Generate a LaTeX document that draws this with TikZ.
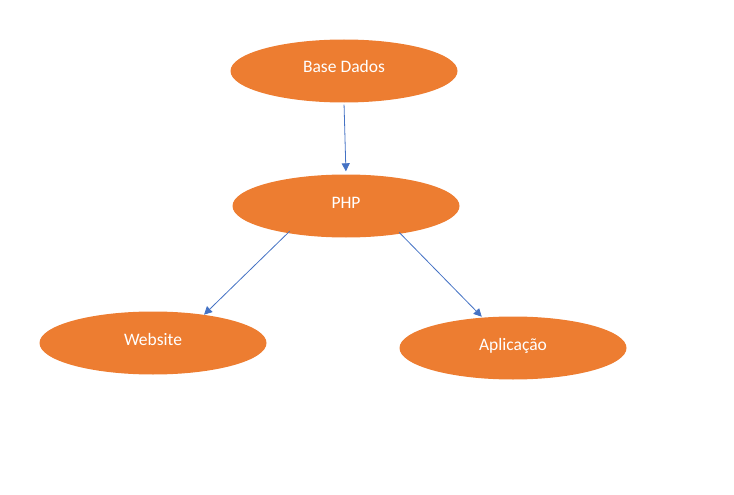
\documentclass[tikz,border=0pt]{standalone}
\usepackage{fontspec}
\setmainfont{Carlito}
\usetikzlibrary{shapes.geometric,arrows.meta}
\definecolor{offorange}{HTML}{ED7D31}
\definecolor{offblue}{HTML}{4472C4}
\tikzset{
  blob/.style={ellipse, fill=offorange, draw=none, text=white,
    minimum width=227pt, minimum height=63pt, inner sep=0pt,
    text height=11pt, text depth=7pt,
    font=\fontsize{17.5}{19}\selectfont},
  link/.style={draw=offblue, line width=0.8pt,
    -{Triangle[length=8pt,width=8pt]}}
}
\begin{document}
\begin{tikzpicture}[x=1pt,y=-1pt]
  \useasboundingbox (0,0) rectangle (734,495);
  \node[blob] (bd)  at (344,71)  {Base Dados};
  \node[blob] (php) at (346,206) {PHP};
  \node[blob] (web) at (153,343) {Website};
  \node[blob] (app) at (513,348) {Aplicação};
  \draw[link, shorten <=2pt, shorten >=3pt] (bd.south) -- (php.north);
  \draw[link, shorten <=-3pt] (php.205) -- (web.29);
  \draw[link, shorten <=-2pt, shorten >=1pt] (php.333) -- (app.135);
\end{tikzpicture}
\end{document}
